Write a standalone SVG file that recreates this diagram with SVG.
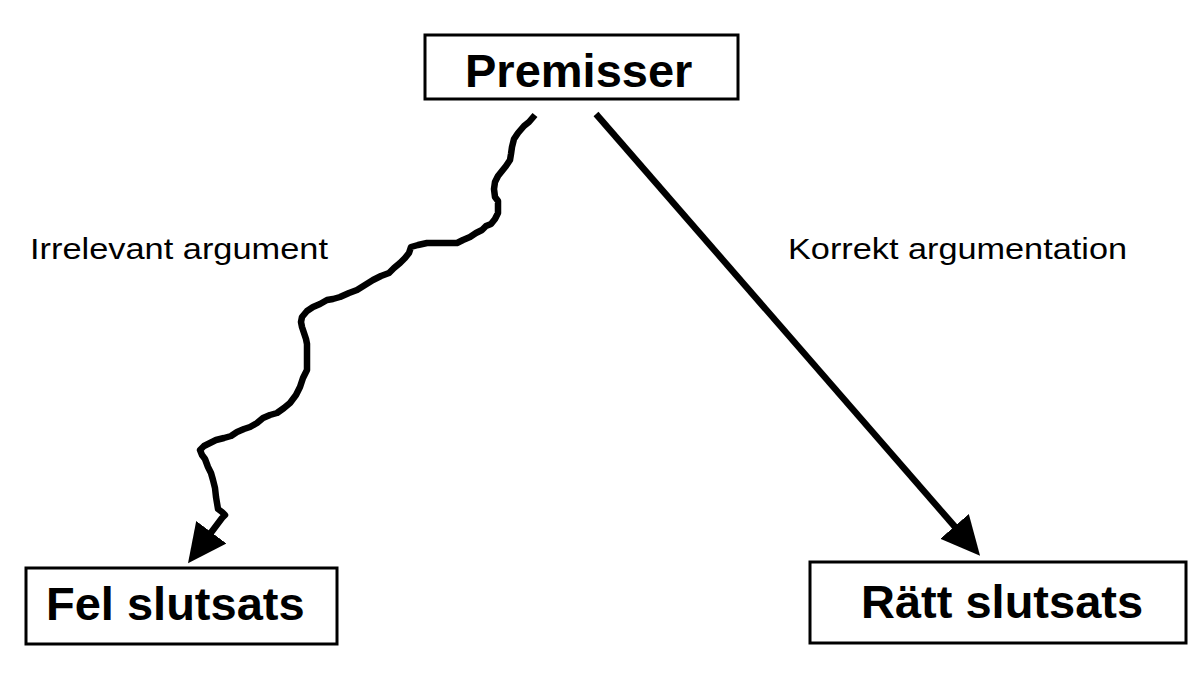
<svg xmlns="http://www.w3.org/2000/svg" width="1200" height="675" viewBox="0 0 1200 675">
<style>
.box{fill:#fff;stroke:#000;stroke-width:3}
.title{font-family:"Liberation Sans",Arial,sans-serif;font-weight:bold;font-size:47px;fill:#000}
.lbl{font-family:"Liberation Sans",Arial,sans-serif;font-size:29px;fill:#000}
.conn{fill:none;stroke:#000;stroke-width:6.5;stroke-linejoin:round;stroke-linecap:butt}
</style>
<defs>
<marker id="ah" markerUnits="userSpaceOnUse" markerWidth="40" markerHeight="40" viewBox="0 0 36 34" refX="2" refY="17" orient="auto">
<path d="M0,0 L35,17 L0,34 z" fill="#000"/>
</marker>
</defs>
<rect width="1200" height="675" fill="#fff"/>
<g id="connectors">
<line class="conn" x1="596" y1="114" x2="956" y2="528" marker-end="url(#ah)"/>
<polyline class="conn" marker-end="url(#ah)" points="535,115 529,122 524,126 518,133 514,139 512,147 511,154 510,160 506,166 502,171 498,176 495,182 494,189 495,197 498,201 498,207 498,213 495,219 491,224 486,226 482,230 476,233 470,237 463,240 457,243 447,243 437,243 427,243 418,245 411,247 409,253 405,258 400,263 394,268 389,273 381,276 373,280 365,285 357,290 349,293 340,297 333,299 327,300 320,304 313,307 307,311 302,317 301,322 302,327 304,333 306,339 307,344 307,352 307,360 307,370 303,378 300,387 296,395 290,403 284,408 277,413 270,415 263,418 257,423 250,427 244,429 237,432 231,436 224,438 216,440 210,443 204,446 200,450 202,455 205,459 208,467 211,473 213,480 215,488 216,497 217,503 218,509 222,512 225,515 222,518 210,534"/>
</g>
<g id="premisser">
<rect class="box" x="425" y="35" width="313" height="64"/>
<text class="title" x="465" y="87">Premisser</text>
</g>
<g id="fel-slutsats">
<rect class="box" x="26" y="568" width="311" height="76"/>
<text class="title" x="46" y="620">Fel slutsats</text>
</g>
<g id="ratt-slutsats">
<rect class="box" x="810" y="562" width="376" height="81"/>
<text class="title" x="861" y="618">Rätt slutsats</text>
</g>
<g id="labels">
<text class="lbl" x="30" y="259" textLength="298" lengthAdjust="spacingAndGlyphs">Irrelevant argument</text>
<text class="lbl" x="788" y="259" textLength="339" lengthAdjust="spacingAndGlyphs">Korrekt argumentation</text>
</g>
</svg>
